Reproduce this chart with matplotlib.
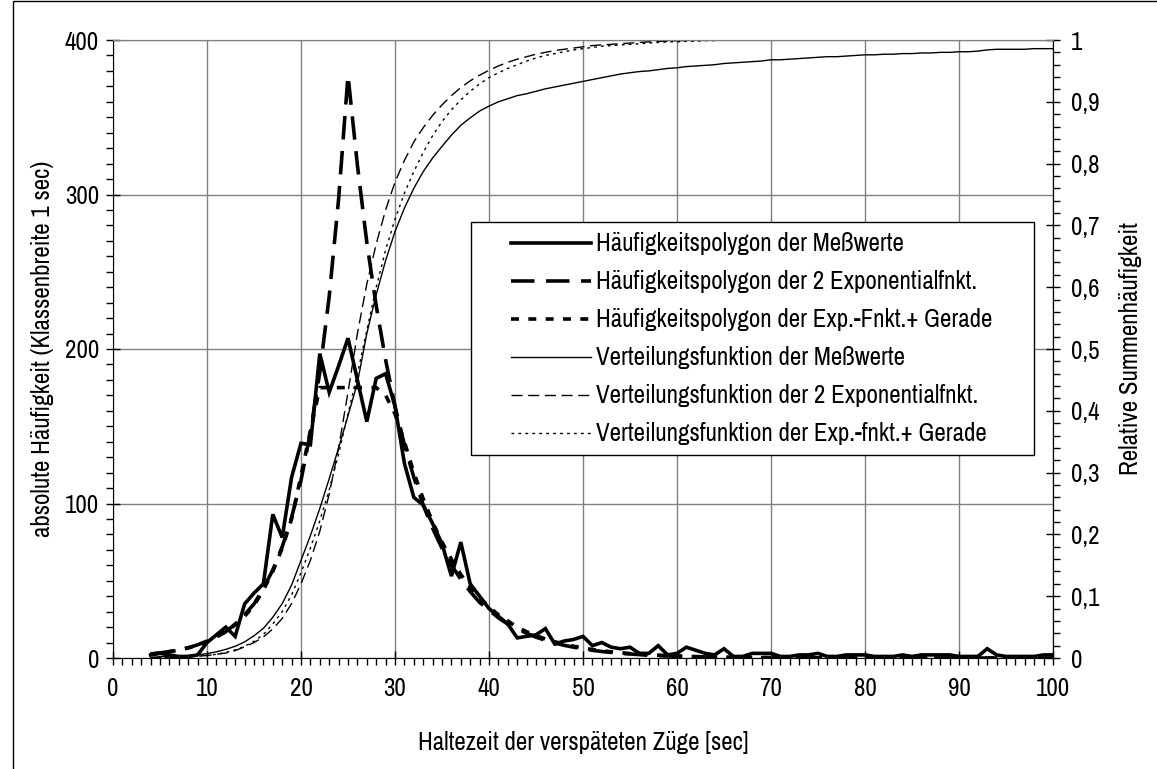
import matplotlib
matplotlib.use('Agg')
import matplotlib.pyplot as plt
from matplotlib.legend_handler import HandlerLine2D
from matplotlib.patches import Rectangle
from matplotlib import font_manager

# Haltezeit [sec]
x_sec = list(range(4, 101))

# Haeufigkeitspolygon der Messwerte
freq_mess = [2, 3, 2, 1, 1, 2, 10, 15, 20, 14,
             35, 42, 48, 93, 78, 117, 139, 138, 197, 172,
             189, 207, 180, 153, 181, 184, 163, 126, 104, 99,
             87, 74, 53, 75, 48, 40, 32, 27, 22, 13,
             14, 15, 19, 9, 11, 12, 14, 8, 10, 7,
             6, 7, 3, 3, 8, 2, 3, 7, 5, 3,
             2, 6, 1, 1, 3, 3, 3, 1, 1, 2,
             2, 3, 1, 1, 2, 2, 2, 1, 1, 1,
             2, 1, 2, 2, 2, 2, 1, 1, 1, 6,
             2, 1, 1, 1, 1, 2, 2]

# Haeufigkeitspolygon der 2 Exponentialfunktionen
freq_2exp = [2.6, 3.3, 4.2, 5.3, 6.7, 8.5, 11, 14, 17, 22,
             28, 35, 45, 57, 72, 91, 115, 146, 185, 234,
             297, 377, 319, 269, 228, 193, 163, 138, 117, 99,
             84, 71, 60, 51, 43, 36, 31, 26, 22, 19,
             16, 13.5, 11.5, 9.7, 8.2, 7, 5.9, 5, 4.2, 3.6,
             3, 2.6, 2.2, 1.8, 1.6, 1.3, 1.1, 0.95, 0.8, 0.7,
             0.6, 0.5, 0.45, 0.4, 0.35, 0.3, 0.25, 0.2, 0.2, 0.15,
             0.15, 0.1, 0.1, 0.1, 0.1, 0.05, 0.05, 0.05, 0.05, 0.05,
             0, 0, 0, 0, 0, 0, 0, 0, 0, 0,
             0, 0, 0, 0, 0, 0, 0]

# Haeufigkeitspolygon der Exp.-Fnkt. + Gerade
freq_expg = [2.5, 3.2, 4, 5.1, 6.5, 8.2, 10.5, 13.5, 17, 21.5,
             27, 34, 44, 56, 71, 90, 118, 147, 175, 175,
             175, 175, 175, 175, 175, 170, 158, 140, 120, 103,
             88, 75, 64, 54, 46, 39, 33, 28, 24, 20,
             17, 14.5, 12.3, 10.5, 9, 7.6, 6.5, 5.5, 4.7, 4,
             3.4, 2.9, 2.5, 2.1, 1.8, 1.5, 1.3, 1.1, 0.9, 0.8,
             0.7, 0.6, 0.5, 0.4, 0.35, 0.3, 0.25, 0.2, 0.2, 0.15,
             0.15, 0.1, 0.1, 0.1, 0.1, 0.05, 0.05, 0.05, 0.05, 0.05,
             0, 0, 0, 0, 0, 0, 0, 0, 0, 0,
             0, 0, 0, 0, 0, 0, 0]

# Verteilungsfunktion der Messwerte
vert_mess = [.001, .002, .003, .003, .004, .005, .007, .010, .014, .019,
             .026, .036, .048, .066, .088, .118, .158, .198, .242, .290,
             .340, .392, .445, .525, .588, .643, .690, .728, .760, .787,
             .809, .828, .846, .862, .874, .885, .893, .900, .905, .910,
             .913, .917, .921, .924, .927, .930, .933, .936, .939, .942,
             .945, .947, .949, .950, .952, .954, .955, .957, .958, .959,
             .960, .962, .963, .964, .965, .966, .968, .968, .969, .970,
             .971, .972, .973, .973, .974, .975, .976, .976, .977, .977,
             .978, .978, .979, .979, .980, .980, .981, .981, .982, .984,
             .985, .985, .985, .985, .986, .986, .986]

# Verteilungsfunktion der 2 Exponentialfunktionen
vert_2exp = [.0005, .0008, .001, .0015, .002, .003, .004, .006, .008, .012,
             .018, .025, .034, .047, .064, .088, .120, .158, .205, .265,
             .340, .430, .525, .605, .670, .725, .770, .805, .835, .858,
             .878, .895, .910, .923, .934, .943, .951, .958, .964, .969,
             .973, .977, .980, .983, .985, .987, .989, .991, .992, .993,
             .994, .995, .996, .997, .998, .998, .999, .999, 1, 1,
             1, 1, 1, 1, 1, 1, 1, 1, 1, 1,
             1, 1, 1, 1, 1, 1, 1, 1, 1, 1,
             1, 1, 1, 1, 1, 1, 1, 1, 1, 1,
             1, 1, 1, 1, 1, 1, 1]

# Verteilungsfunktion der Exp.-Fnkt. + Gerade
vert_expg = [.0005, .0008, .001, .0015, .002, .003, .004, .006, .009, .013,
             .019, .027, .038, .055, .075, .102, .138, .178, .222, .272,
             .330, .395, .460, .530, .600, .660, .710, .752, .787, .818,
             .845, .868, .887, .903, .917, .929, .939, .947, .954, .960,
             .966, .971, .975, .978, .981, .984, .986, .988, .990, .991,
             .992, .993, .994, .995, .996, .997, .997, .998, .998, .999,
             .999, 1, 1, 1, 1, 1, 1, 1, 1, 1,
             1, 1, 1, 1, 1, 1, 1, 1, 1, 1,
             1, 1, 1, 1, 1, 1, 1, 1, 1, 1,
             1, 1, 1, 1, 1, 1, 1]

labels = ['Häufigkeitspolygon der Meßwerte',
          'Häufigkeitspolygon der 2 Exponentialfnkt.',
          'Häufigkeitspolygon der Exp.-Fnkt.+ Gerade',
          'Verteilungsfunktion der Meßwerte',
          'Verteilungsfunktion der 2 Exponentialfnkt.',
          'Verteilungsfunktion der Exp.-fnkt.+ Gerade']

# narrow font if one is installed, otherwise Liberation Sans
fonts = font_manager.fontManager.ttflist
fs = 15
fam = ['Liberation Sans', 'DejaVu Sans']
narrow = [f.name for f in fonts
          if 'narrow' in f.name.lower() or 'condensed' in f.name.lower()]
cond = [f for f in fonts if f.name == 'DejaVu Sans' and
        (str(f.stretch) in ('condensed', 'semi-condensed') or
         (isinstance(f.stretch, int) and f.stretch < 500))]
if narrow:
    fam = [sorted(narrow)[0], 'DejaVu Sans']
    fs = 18
elif cond:
    fam = ['DejaVu Sans']
    plt.rcParams['font.stretch'] = 'condensed'
    fs = 16
plt.rcParams['font.family'] = fam

W, H = 1157, 769
fig = plt.figure(figsize=(W / 100, H / 100), dpi=100)
ax = fig.add_axes([113 / W, 1 - 658 / H, 940 / W, 618 / H])
ax2 = ax.twinx()

l1, = ax.plot(x_sec, freq_mess, color='k', lw=2.6, solid_joinstyle='miter')
l2, = ax.plot(x_sec, freq_2exp, color='k', lw=2.6, linestyle=(0, (6.5, 3.2)))
l3, = ax.plot(x_sec, freq_expg, color='k', lw=2.6, linestyle=(0, (2.2, 2.6)))
l4, = ax2.plot(x_sec, vert_mess, color='k', lw=1.0)
l5, = ax2.plot(x_sec, vert_2exp, color='k', lw=1.0, linestyle=(0, (8, 4)))
l6, = ax2.plot(x_sec, vert_expg, color='k', lw=1.0, linestyle=(0, (2, 3)))

ax.set_xlim(0, 100)
ax.set_ylim(0, 400)
ax2.set_ylim(0, 1)

ax.set_xticks(range(0, 101, 10))
ax.set_xticks(range(0, 101, 1), minor=True)
ax.set_yticks(range(0, 401, 100))
ax.set_yticks(range(0, 401, 10), minor=True)
ax2.set_yticks([i / 10 for i in range(11)])
ax2.set_yticklabels(['0'] + ['0,%d' % i for i in range(1, 10)] + ['1'])
ax2.set_yticks([i / 50 for i in range(51)], minor=True)

ax.grid(True, which='major', color='#808080', lw=1.0)
ax.set_axisbelow(True)
for a in (ax, ax2):
    a.spines['top'].set_color('#808080')
ax2.spines['left'].set_visible(False)
ax2.spines['bottom'].set_visible(False)

ax.tick_params(axis='both', which='major', direction='inout', length=10,
               width=1, labelsize=fs, pad=5)
ax.tick_params(axis='both', which='minor', direction='out', length=5, width=1)
ax.tick_params(axis='x', which='major', pad=9)
ax2.tick_params(axis='y', which='major', direction='inout', length=10,
                width=1, labelsize=fs, pad=8)
ax2.tick_params(axis='y', which='minor', direction='out', length=5, width=1)

ax.set_xlabel('Haltezeit der verspäteten Züge [sec]', fontsize=fs, labelpad=22)
ax.set_ylabel('absolute Häufigkeit (Klassenbreite 1 sec)', fontsize=fs, labelpad=8)
ax2.set_ylabel('Relative Summenhäufigkeit', fontsize=fs, labelpad=14)

leg = ax2.legend([l1, l2, l3, l4, l5, l6], labels,
                 loc='upper left', bbox_to_anchor=(0.381, 0.333, 0.599, 0.372),
                 mode='expand', borderaxespad=0, fontsize=fs,
                 handlelength=4.4, handletextpad=0.2, labelspacing=0.6,
                 borderpad=0.4, fancybox=False, framealpha=1, edgecolor='k',
                 handler_map={l: HandlerLine2D(xpad=1.2)
                              for l in (l1, l2, l3, l4, l5, l6)})
leg.get_frame().set_linewidth(1.0)

fig.patches.append(Rectangle((13 / W, -0.05), 1.1, 1.05 - 1 / H, fill=False,
                             edgecolor='k', lw=1, transform=fig.transFigure))

fig.savefig('out.png', dpi=100)
